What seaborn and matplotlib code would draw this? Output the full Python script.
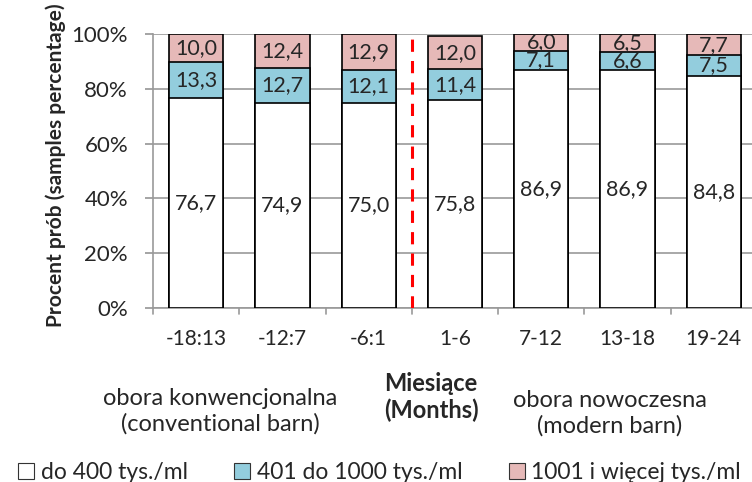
import numpy as np
import pandas as pd
import seaborn as sns
import matplotlib.pyplot as plt
from matplotlib.patches import Patch

# data
months = ['-18:13', '-12:7', '-6:1', '1-6', '7-12', '13-18', '19-24']
low = [76.7, 74.9, 75.0, 75.8, 86.9, 86.9, 84.8]      # do 400 tys./ml
mid = [13.3, 12.7, 12.1, 11.4, 7.1, 6.6, 7.5]         # 401 do 1000 tys./ml
high = [10.0, 12.4, 12.9, 12.0, 6.0, 6.5, 7.7]        # 1001 i wiecej tys./ml
series_names = ['do 400 tys./ml', '401 do 1000 tys./ml', '1001 i więcej tys./ml']
colors = ['#FFFFFF', '#93CDDD', '#E6B9B8']

df = pd.DataFrame({'month': months, 'low': low, 'mid': mid, 'high': high})
df['c1'] = df['low']
df['c2'] = df['low'] + df['mid']
df['c3'] = df['c2'] + df['high']

sns.set_theme(style='white')
plt.rcParams['font.family'] = ['Lato', 'DejaVu Sans']

fig = plt.figure(figsize=(7.52, 4.82), dpi=100)
ax = fig.add_axes([0.2035, 0.361, 0.803, 0.568])

# stacked by overplotting cumulative totals, top layer first
for col, c in zip(['c3', 'c2', 'c1'], colors[::-1]):
    sns.barplot(data=df, x='month', y=col, color=c, saturation=1,
                width=0.63, edgecolor='black', linewidth=1.2, ax=ax, zorder=3)

def fmt(v):
    return f'{v:.1f}'.replace('.', ',')

for i in range(len(months)):
    ax.text(i, df['low'][i] / 2, fmt(low[i]), ha='center', va='center', fontsize=15.5, zorder=5)
    ax.text(i, df['c1'][i] + mid[i] / 2, fmt(mid[i]), ha='center', va='center', fontsize=15.5, zorder=5)
    ax.text(i, df['c2'][i] + high[i] / 2, fmt(high[i]), ha='center', va='center', fontsize=15.5, zorder=5)

ax.set_ylim(0, 100)
ax.set_xlim(-0.5, 6.5)
ax.set_yticks(np.arange(0, 101, 20))
ax.set_yticklabels([f'{t}%' for t in range(0, 101, 20)], fontsize=16)
ax.tick_params(axis='x', labelsize=15, length=0, pad=15)
ax.tick_params(axis='y', length=6, color='#999999', left=True, direction='out', pad=12)
ax.yaxis.grid(True, color='#999999', linewidth=1.2)
ax.set_axisbelow(True)
for s in ['top', 'right']:
    ax.spines[s].set_visible(False)
for s in ['left', 'bottom']:
    ax.spines[s].set_color('#999999')
    ax.spines[s].set_linewidth(1.2)

# category boundary ticks on x axis
for b in np.arange(-0.5, 6.6, 1):
    ax.plot([b, b], [0, -2.2], color='#999999', lw=1.2, clip_on=False)

ax.set_xlabel('')
ax.set_ylabel('Procent prób (samples percentage)', fontsize=15, fontweight='bold')
ax.yaxis.set_label_coords(-0.144, 0.52)

# boundary between barns
ax.axvline(2.5, color='#FF0000', lw=2.2, linestyle=(0, (4, 3)), zorder=4)

fig.text(220 / 752, 1 - 411 / 482, 'obora konwencjonalna\n(conventional barn)',
         ha='center', va='center', fontsize=17, linespacing=1.25)
fig.text(431 / 752, 1 - 397 / 482, 'Miesiące\n(Months)',
         ha='center', va='center', fontsize=17, fontweight='bold', linespacing=1.2)
fig.text(610 / 752, 1 - 413 / 482, 'obora nowoczesna\n(modern barn)',
         ha='center', va='center', fontsize=17, linespacing=1.25)

handles = [Patch(facecolor=c, edgecolor='#333333', linewidth=0.8) for c in colors]
fig.legend(handles, series_names, loc='lower center', bbox_to_anchor=(0.505, -0.045),
           ncol=3, frameon=False, fontsize=16.5, handlelength=0.7, handleheight=0.7,
           handletextpad=0.3, columnspacing=2.0)

fig.savefig('out.png', dpi=100)
